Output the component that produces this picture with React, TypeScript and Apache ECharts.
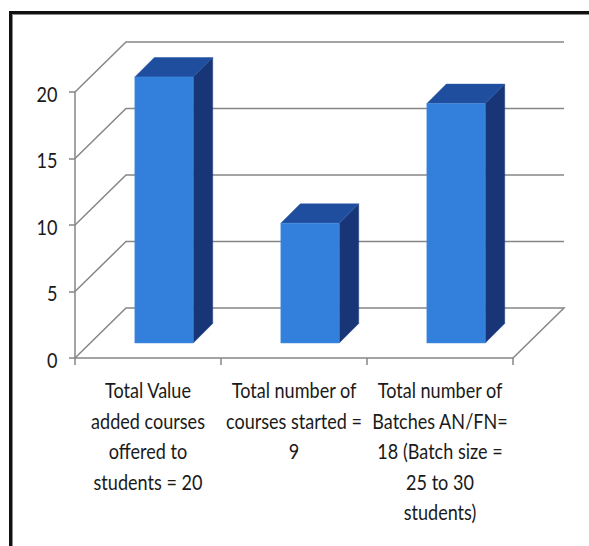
import React, { useEffect, useRef } from "react";
import * as echarts from "echarts";

const categories = [
  "Total Value\nadded courses\noffered to\nstudents = 20",
  "Total number of\ncourses started =\n9",
  "Total number of\nBatches AN/FN=\n18 (Batch size =\n25 to 30\nstudents)",
];
const values = [20, 9, 18];
const wallTicks = [0, 5, 10, 15, 20];

const WALL_DX = 51;
const WALL_DY = 50;
const BAR_INSET_X = 16;
const BAR_INSET_Y = 15;
const BAR_DEPTH_X = 19.5;
const BAR_DEPTH_Y = 19.5;
const BAR_RATIO = 0.4;
const FONT = "Lato";
const FONT_SIZE = 21;
const TEXT_SQUEEZE = 0.86;
const TEXT_COLOR = "#1a1a1a";

export default function App() {
  const ref = useRef<HTMLDivElement>(null);
  useEffect(() => {
    const chart = echarts.init(ref.current!, null, { renderer: "svg" });
    chart.setOption({
      animation: false,
      backgroundColor: "#ffffff",
      grid: { left: 75, width: 438, top: 92, height: 266, containLabel: false },
      graphic: [
        { type: "rect", silent: true, shape: { x: 9, y: 11, width: 3, height: 535 }, style: { fill: "#111111" } },
        { type: "rect", silent: true, shape: { x: 9, y: 11, width: 580, height: 3 }, style: { fill: "#111111" } },
        { type: "rect", silent: true, shape: { x: 12, y: 14, width: 1, height: 532 }, style: { fill: "#8a8a8a" } },
        { type: "rect", silent: true, shape: { x: 12, y: 14, width: 577, height: 1 }, style: { fill: "#8a8a8a" } },
      ],
      xAxis: {
        type: "category",
        data: categories,
        boundaryGap: true,
        axisLine: { show: true, lineStyle: { color: "#868686", width: 1.5 } },
        axisTick: { show: true, length: 7, alignWithLabel: false, lineStyle: { color: "#868686", width: 1.5 } },
        axisLabel: { show: false },
        splitLine: { show: false },
      },
      yAxis: {
        type: "value",
        min: 0,
        max: 20,
        interval: 5,
        axisLine: { show: true, lineStyle: { color: "#868686", width: 1.5 } },
        axisTick: { show: true, length: 6, lineStyle: { color: "#868686", width: 1.5 } },
        axisLabel: { show: false },
        splitLine: { show: false },
      },
      series: [
        {
          type: "custom",
          silent: true,
          z: 1,
          clip: false,
          coordinateSystem: "cartesian2d",
          encode: { x: 0, y: 1 },
          data: wallTicks.map((t) => [0, t]),
          renderItem: (_p: any, api: any) => {
            const t = api.value(1);
            const start = api.coord([0, t]);
            const left = start[0] - api.size([1, 0])[0] / 2;
            const right = left + api.size([1, 0])[0] * categories.length;
            const lineStyle = { stroke: "#868686", lineWidth: 1.5, fill: "none" };
            const pts =
              t === 0
                ? [
                    [left, start[1]],
                    [left + WALL_DX, start[1] - WALL_DY],
                    [right + WALL_DX, start[1] - WALL_DY],
                    [right, start[1]],
                  ]
                : [
                    [left, start[1]],
                    [left + WALL_DX, start[1] - WALL_DY],
                    [right + WALL_DX, start[1] - WALL_DY],
                  ];
            return {
              type: "group",
              children: [
                { type: "polyline", shape: { points: pts }, style: lineStyle },
                {
                  type: "text",
                  x: left - 17.5,
                  y: start[1] + 1.5,
                  scaleX: TEXT_SQUEEZE,
                  style: {
                    text: String(t),
                    fill: TEXT_COLOR,
                    fontFamily: FONT,
                    fontSize: FONT_SIZE,
                    align: "right",
                    verticalAlign: "middle",
                  },
                },
              ],
            };
          },
        },
        {
          type: "custom",
          silent: true,
          z: 2,
          clip: false,
          coordinateSystem: "cartesian2d",
          encode: { x: 0, y: 1 },
          data: categories.map((_c, i) => [i, 0]),
          renderItem: (_p: any, api: any) => {
            const i = api.value(0);
            const c = api.coord([i, 0]);
            return {
              type: "text",
              x: c[0],
              y: c[1] + 17,
              scaleX: TEXT_SQUEEZE,
              style: {
                text: categories[i],
                fill: TEXT_COLOR,
                fontFamily: FONT,
                fontSize: FONT_SIZE,
                lineHeight: 30.5,
                align: "center",
                verticalAlign: "top",
              },
            };
          },
        },
        {
          type: "custom",
          silent: true,
          z: 3,
          clip: false,
          coordinateSystem: "cartesian2d",
          encode: { x: 0, y: 1 },
          data: values.map((v, i) => [i, v]),
          renderItem: (_p: any, api: any) => {
            const i = api.value(0);
            const v = api.value(1);
            const top = api.coord([i, v]);
            const base = api.coord([i, 0]);
            const w = api.size([1, 0])[0] * BAR_RATIO;
            const x0 = top[0] + BAR_INSET_X - w / 2;
            const x1 = x0 + w;
            const yT = top[1] - BAR_INSET_Y;
            const yB = base[1] - BAR_INSET_Y;
            return {
              type: "group",
              children: [
                {
                  type: "polygon",
                  shape: {
                    points: [
                      [x1, yT],
                      [x1 + BAR_DEPTH_X, yT - BAR_DEPTH_Y],
                      [x1 + BAR_DEPTH_X, yB - BAR_DEPTH_Y],
                      [x1, yB],
                    ],
                  },
                  style: { fill: "#173577", stroke: "#1b3c80", lineWidth: 0.5 },
                },
                {
                  type: "polygon",
                  shape: {
                    points: [
                      [x0, yT],
                      [x0 + BAR_DEPTH_X, yT - BAR_DEPTH_Y],
                      [x1 + BAR_DEPTH_X, yT - BAR_DEPTH_Y],
                      [x1, yT],
                    ],
                  },
                  style: { fill: "#1f4e9e", stroke: "#2a5aa8", lineWidth: 0.5 },
                },
                {
                  type: "rect",
                  shape: { x: x0, y: yT, width: w, height: yB - yT },
                  style: { fill: "#3280dc", stroke: "#4a90e2", lineWidth: 0.5 },
                },
              ],
            };
          },
        },
      ],
    });
    return () => chart.dispose();
  }, []);
  return (
    <div
      ref={ref}
      style={{ position: "absolute", left: 0, top: 0, width: 589, height: 546 }}
    />
  );
}
